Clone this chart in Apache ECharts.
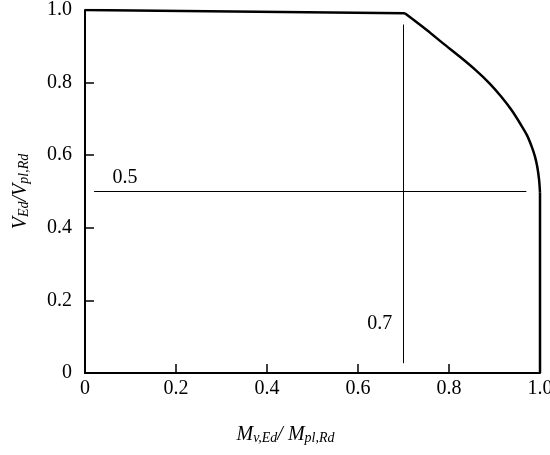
<!DOCTYPE html>
<html>
<head>
<meta charset="utf-8">
<script src="https://cdn.jsdelivr.net/npm/echarts@6/dist/echarts.min.js"></script>
<style>
  html, body { margin: 0; padding: 0; background: #fff; }
  #chart { width: 550px; height: 455px; }
</style>
</head>
<body>
<div id="chart"></div>
<script>
  // interaction curve M/Mpl vs V/Vpl
  var curveX = [0, 0.703, 0.751, 0.787, 0.824, 0.858, 0.889, 0.915, 0.937, 0.956, 0.971, 0.982, 0.989, 0.994, 0.998, 1.0, 1.0];
  var curveY = [1.0, 0.991, 0.945, 0.908, 0.871, 0.835, 0.798, 0.761, 0.725, 0.688, 0.656, 0.623, 0.596, 0.568, 0.532, 0.497, 0];
  // the two guide lines
  var hLineX = [0.02, 0.97];
  var hLineY = [0.5, 0.5];
  var vLineX = [0.7, 0.7];
  var vLineY = [0.96, 0.027];
  // annotation texts
  var noteText = ['0.5', '0.7'];
  var noteX = [0.088, 0.648];
  var noteY = [0.537, 0.135];

  function pairs(xs, ys) {
    return xs.map(function (x, i) { return [x, ys[i]]; });
  }

  var serif = 'Liberation Serif';
  var nameRich = {
    i: { fontFamily: serif, fontStyle: 'italic', fontSize: 20, color: '#000', lineHeight: 20, verticalAlign: 'top' },
    s: { fontFamily: serif, fontStyle: 'italic', fontSize: 14, color: '#000', lineHeight: 14, padding: [11, 0, 0, 0], verticalAlign: 'bottom' }
  };

  var curve = pairs(curveX, curveY);
  var last = curve.length - 1;
  var thick = { color: '#000', width: 2.5 };

  var chart = echarts.init(document.getElementById('chart'));
  var tickLabel = function (v) { return v === 0 ? '0' : v.toFixed(1); };

  chart.setOption({
    animation: false,
    backgroundColor: '#fff',
    grid: { left: 85, right: 10, top: 10, bottom: 82, containLabel: false, outerBoundsMode: 'none' },
    xAxis: {
      type: 'value',
      min: 0, max: 1, interval: 0.2,
      splitLine: { show: false },
      axisLine: { lineStyle: { color: '#000', width: 2 } },
      axisTick: { inside: true, length: 9, lineStyle: { color: '#000', width: 1.5 } },
      axisLabel: { formatter: tickLabel, fontFamily: serif, fontSize: 20, color: '#000', margin: 6 },
      name: '{i|M}{s|v,Ed}{i|/ M}{s|pl,Rd}',
      nameLocation: 'middle',
      nameGap: 52,
      nameTextStyle: { rich: nameRich, padding: [0, 54, 0, 0] }
    },
    yAxis: {
      type: 'value',
      min: 0, max: 1, interval: 0.2,
      splitLine: { show: false },
      axisLine: { lineStyle: { color: '#000', width: 2 } },
      axisTick: { inside: true, length: 9, lineStyle: { color: '#000', width: 1.5 } },
      axisLabel: { formatter: tickLabel, fontFamily: serif, fontSize: 20, color: '#000', margin: 13 },
      name: '{i|V}{s|Ed}{i|/V}{s|pl,Rd}',
      nameLocation: 'middle',
      nameGap: 54,
      nameTextStyle: { rich: nameRich }
    },
    series: [
      // flat top part
      { type: 'line', data: curve.slice(0, 2), symbol: 'none', lineStyle: thick, z: 3 },
      // curved part
      { type: 'line', data: curve.slice(1, last), symbol: 'none', smooth: 0.3, lineStyle: thick, z: 3 },
      // vertical drop at M = 1.0
      { type: 'line', data: curve.slice(last - 1), symbol: 'none', lineStyle: thick, z: 3 },
      {
        type: 'line',
        data: pairs(hLineX, hLineY),
        symbol: 'none',
        lineStyle: { color: '#000', width: 1 }
      },
      {
        type: 'line',
        data: pairs(vLineX, vLineY),
        symbol: 'none',
        lineStyle: { color: '#000', width: 1 }
      },
      {
        type: 'scatter',
        data: noteX.map(function (x, i) { return { value: [x, noteY[i]], name: noteText[i] }; }),
        symbolSize: 1,
        itemStyle: { color: 'rgba(0,0,0,0)', opacity: 1 },
        label: {
          show: true,
          position: 'inside',
          formatter: '{b}',
          fontFamily: serif,
          fontSize: 20,
          color: '#000',
          opacity: 1
        }
      }
    ]
  });
</script>
</body>
</html>
